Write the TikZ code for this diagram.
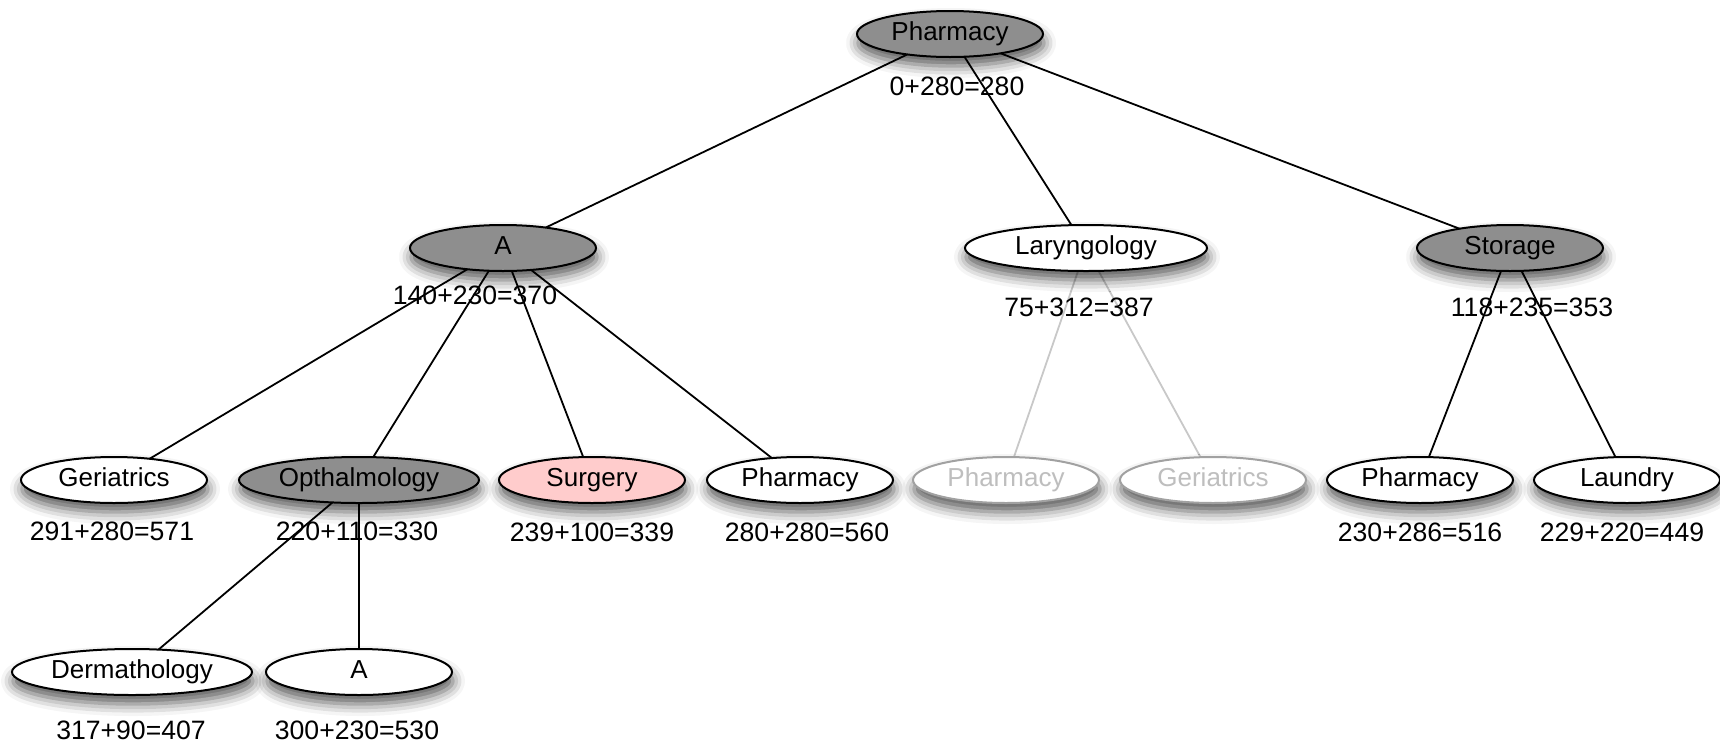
\documentclass[tikz,border=0pt]{standalone}
\usepackage{fontspec}
\setmainfont{Liberation Sans}
\usetikzlibrary{shapes.geometric,shadows.blur}
\definecolor{darkfill}{RGB}{142,142,142}
\definecolor{pinkfill}{RGB}{255,204,204}
\definecolor{fadeline}{RGB}{200,200,200}
\definecolor{fadetext}{RGB}{190,190,190}
\tikzset{
  tnode/.style={ellipse, draw=black, line width=1pt, fill=white, inner sep=0pt,
    minimum width=93pt, minimum height=23pt, font=\fontsize{13}{15}\selectfont,
    text height=9.5pt, text depth=3.2pt,
    blur shadow={shadow xshift=0.5pt, shadow yshift=-4.5pt, shadow blur radius=6pt, shadow opacity=65}},
  wide/.style={minimum width=120pt},
  dark/.style={fill=darkfill},
  pink/.style={fill=pinkfill},
  faded/.style={draw=fadetext!85!black, text=fadetext},
  cost/.style={font=\fontsize{13.3}{15}\selectfont, inner sep=0pt},
  edge/.style={line width=0.9pt, black},
  fadeedge/.style={line width=0.9pt, fadeline},
}
\begin{document}
\begin{tikzpicture}[x=0.5pt, y=-0.5pt]
\useasboundingbox (0,0) rectangle (1720,745);
\coordinate (cR) at (950,34);
\coordinate (cA) at (503,248);
\coordinate (cL) at (1086,248);
\coordinate (cS) at (1510,248);
\coordinate (cG) at (114,480);
\coordinate (cO) at (359,480);
\coordinate (cSu) at (592,480);
\coordinate (cP1) at (800,480);
\coordinate (cP2) at (1006,480);
\coordinate (cG2) at (1213,480);
\coordinate (cP3) at (1420,480);
\coordinate (cLa) at (1627,480);
\coordinate (cD) at (132,672);
\coordinate (cA2) at (359,672);

\draw[edge] (cR) -- (cA);
\draw[edge] (cR) -- (cL);
\draw[edge] (cR) -- (cS);
\draw[edge] (cA) -- (cG);
\draw[edge] (cA) -- (cO);
\draw[edge] (cA) -- (cSu);
\draw[edge] (cA) -- (cP1);
\draw[fadeedge] (cL) -- (cP2);
\draw[fadeedge] (cL) -- (cG2);
\draw[edge] (cS) -- (cP3);
\draw[edge] (cS) -- (cLa);
\draw[edge] (cO) -- (cD);
\draw[edge] (cO) -- (cA2);

\node[tnode, dark] (root) at (cR) {Pharmacy};
\node[tnode, dark] (A) at (cA) {A};
\node[tnode, minimum width=121pt] (lar) at (cL) {Laryngology};
\node[tnode, dark] (sto) at (cS) {Storage};
\node[tnode] (ger) at (cG) {Geriatrics};
\node[tnode, dark, wide] (oph) at (cO) {Opthalmology};
\node[tnode, pink] (sur) at (cSu) {Surgery};
\node[tnode] (pha1) at (cP1) {Pharmacy};
\node[tnode, faded] (pha2) at (cP2) {Pharmacy};
\node[tnode, faded] (ger2) at (cG2) {Geriatrics};
\node[tnode] (pha3) at (cP3) {Pharmacy};
\node[tnode] (lau) at (cLa) {Laundry};
\node[tnode, wide] (der) at (cD) {Dermathology};
\node[tnode] (A2) at (cA2) {A};

\node[cost] (lroot) at (957,86) {0+280=280};
\node[cost] (lA) at (475,295) {140+230=370};
\node[cost] (llar) at (1079,307) {75+312=387};
\node[cost] (lsto) at (1532,307) {118+235=353};
\node[cost] (lger) at (112,531) {291+280=571};
\node[cost] (loph) at (357,531) {220+110=330};
\node[cost] (lsur) at (592,532) {239+100=339};
\node[cost] (lpha1) at (807,532) {280+280=560};
\node[cost] (lpha3) at (1420,532) {230+286=516};
\node[cost] (llau) at (1622,532) {229+220=449};
\node[cost] (lder) at (131,730) {317+90=407};
\node[cost] (lA2) at (357,730) {300+230=530};
\end{tikzpicture}
\end{document}
